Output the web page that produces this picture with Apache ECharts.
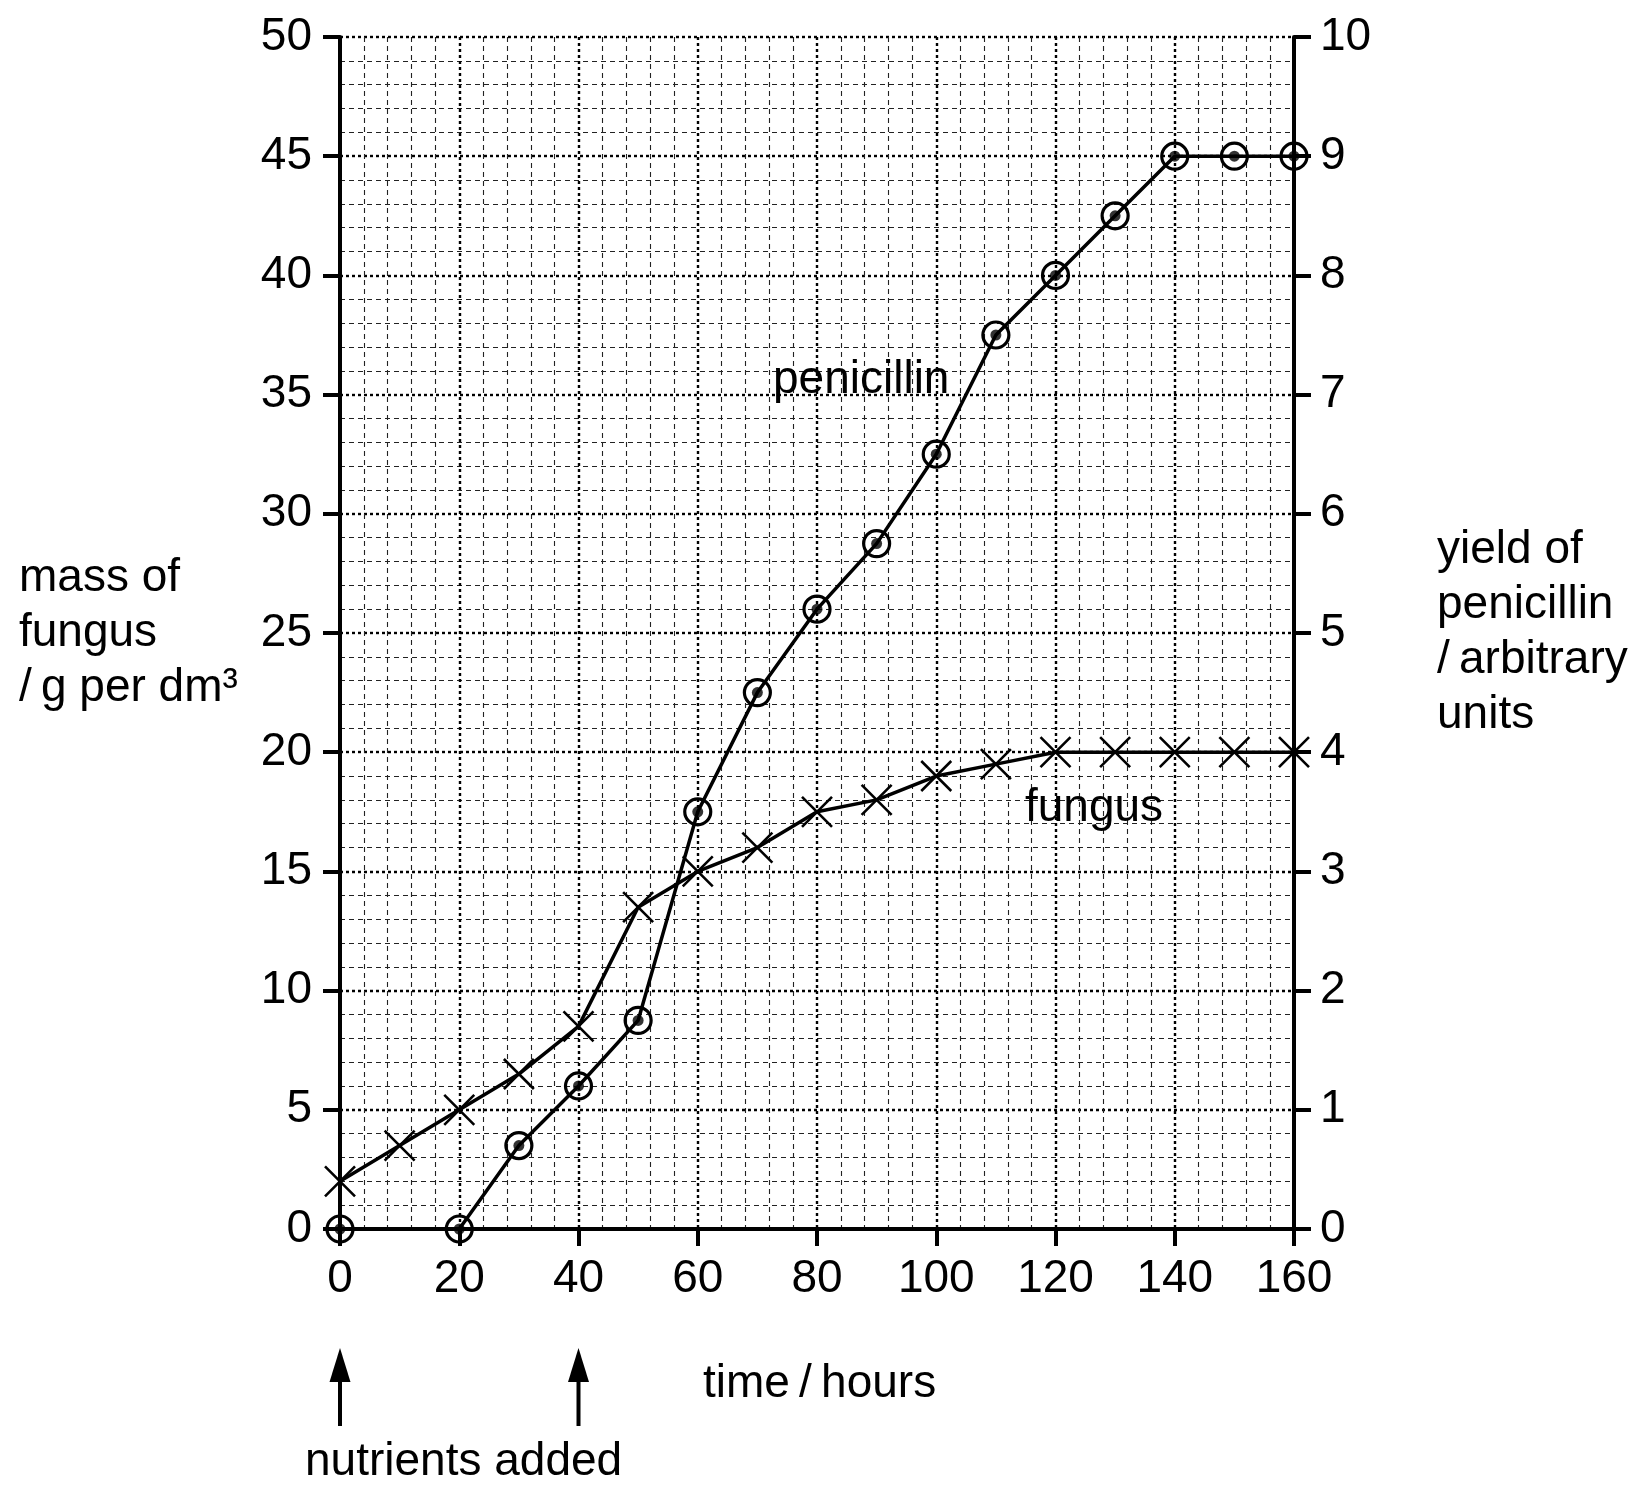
<!DOCTYPE html>
<html lang="en">
<head>
    <meta charset="UTF-8">
    <title>fungus mass and penicillin yield</title>
    <script src="https://cdn.jsdelivr.net/npm/echarts@6.0.0/dist/echarts.min.js"></script>
    <style>
        html, body, #chart {
            width: 100%;
            height: 100%;
            margin: 0;
            padding: 0;
            background: #fff;
        }
        body { overflow: hidden; }
    </style>
</head>
<body>
    <div id="chart"></div>
    <script>
        // time in hours
        const hours = [0, 10, 20, 30, 40, 50, 60, 70, 80, 90, 100, 110, 120, 130, 140, 150, 160];
        // mass of fungus / g per dm3 (crosses, left axis)
        const fungusMass = [2, 3.5, 5, 6.5, 8.5, 13.5, 15, 16, 17.5, 18, 19, 19.5, 20, 20, 20, 20, 20];
        // penicillin hours start at 0, then 20 onwards
        const penHours = [0, 20, 30, 40, 50, 60, 70, 80, 90, 100, 110, 120, 130, 140, 150, 160];
        // yield of penicillin / arbitrary units (circles, right axis)
        const penicillinYield = [0, 0, 0.7, 1.2, 1.75, 3.5, 4.5, 5.2, 5.75, 6.5, 7.5, 8, 8.5, 9, 9, 9];
        // nutrients added at these times
        const nutrientTimes = [0, 40];

        const FONT = '"Liberation Sans", Arial, sans-serif';
        const FS = 46;

        const fungusData = hours.map((h, i) => [h, fungusMass[i]]);
        const penData = penHours.map((h, i) => [h, penicillinYield[i]]);

        const majorLine = { color: '#000', width: 2.4, type: [3, 3] };
        const minorLine = { color: '#222', width: 1.1, type: [5, 4] };
        const axisBlack = { color: '#000', width: 4 };

        var chart = echarts.init(document.getElementById('chart'));

        var option = {
            animation: false,
            backgroundColor: '#fff',
            grid: { left: 340, right: 348, top: 37, bottom: 268 },
            xAxis: {
                type: 'value',
                min: 0, max: 160, interval: 20,
                axisLine: { show: true, onZero: false, lineStyle: axisBlack },
                axisTick: { show: true, length: 17, lineStyle: axisBlack },
                axisLabel: { fontSize: FS, color: '#000', margin: 27, fontFamily: FONT },
                splitLine: { show: true, lineStyle: majorLine },
                minorTick: { show: false, splitNumber: 5 },
                minorSplitLine: { show: true, lineStyle: minorLine }
            },
            yAxis: [
                {
                    type: 'value',
                    position: 'left',
                    min: 0, max: 50, interval: 5,
                    axisLine: { show: true, lineStyle: axisBlack },
                    axisTick: { show: true, length: 17, lineStyle: axisBlack },
                    axisLabel: { fontSize: FS, color: '#000', margin: 28, fontFamily: FONT },
                    splitLine: { show: true, lineStyle: majorLine },
                    minorTick: { show: false, splitNumber: 5 },
                    minorSplitLine: { show: true, lineStyle: minorLine }
                },
                {
                    type: 'value',
                    position: 'right',
                    min: 0, max: 10, interval: 1,
                    axisLine: { show: true, lineStyle: axisBlack },
                    axisTick: { show: true, length: 17, lineStyle: axisBlack },
                    axisLabel: { fontSize: FS, color: '#000', margin: 26, fontFamily: FONT },
                    splitLine: { show: false }
                }
            ],
            series: [
                {
                    name: 'fungus',
                    type: 'line',
                    yAxisIndex: 0,
                    data: fungusData,
                    clip: false,
                    symbol: 'path://M0,0L10,10M10,0L0,10',
                    symbolSize: 30,
                    showAllSymbol: true,
                    lineStyle: { color: '#000', width: 3.5 },
                    itemStyle: { color: 'none', borderColor: '#000', borderWidth: 2.6 },
                    emphasis: { disabled: true },
                    z: 5
                },
                {
                    name: 'penicillin',
                    type: 'line',
                    yAxisIndex: 1,
                    data: penData,
                    clip: false,
                    symbol: 'circle',
                    symbolSize: 26,
                    showAllSymbol: true,
                    lineStyle: { color: '#000', width: 3.5 },
                    itemStyle: { color: 'rgba(0,0,0,0)', borderColor: '#000', borderWidth: 3.2 },
                    emphasis: { disabled: true },
                    z: 5
                },
                {
                    name: 'penicillin dots',
                    type: 'scatter',
                    yAxisIndex: 1,
                    data: penData,
                    clip: false,
                    symbol: 'circle',
                    symbolSize: 11,
                    itemStyle: { color: '#000' },
                    emphasis: { disabled: true },
                    z: 6
                }
            ]
        };

        chart.setOption(option);

        // annotation text and nutrient arrows
        const textStyle = (text, x, y, align) => ({
            type: 'text',
            style: {
                text: text, x: x, y: y,
                font: FS + 'px ' + FONT,
                lineHeight: 55,
                fill: '#000',
                align: align || 'left',
                verticalAlign: 'middle'
            }
        });

        const graphics = [
            textStyle('mass of\nfungus\n/\u2009g per dm\u00b3', 19, 633),
            textStyle('yield of\npenicillin\n/\u2009arbitrary\nunits', 1437, 633),
            textStyle('penicillin', 773, 380),
            textStyle('fungus', 1025, 808),
            textStyle('time\u2009/\u2009hours', 703, 1384),
            textStyle('nutrients added', 305, 1462)
        ];

        nutrientTimes.forEach(t => {
            const px = chart.convertToPixel({ xAxisIndex: 0 }, t);
            graphics.push({
                type: 'line',
                shape: { x1: px, y1: 1378, x2: px, y2: 1426 },
                style: { stroke: '#000', lineWidth: 4 }
            });
            graphics.push({
                type: 'polygon',
                shape: { points: [[px, 1348], [px - 10.5, 1382], [px + 10.5, 1382]] },
                style: { fill: '#000' }
            });
        });

        chart.setOption({ graphic: graphics });

        window.addEventListener('resize', function () {
            chart.resize();
        });
    </script>
</body>
</html>
